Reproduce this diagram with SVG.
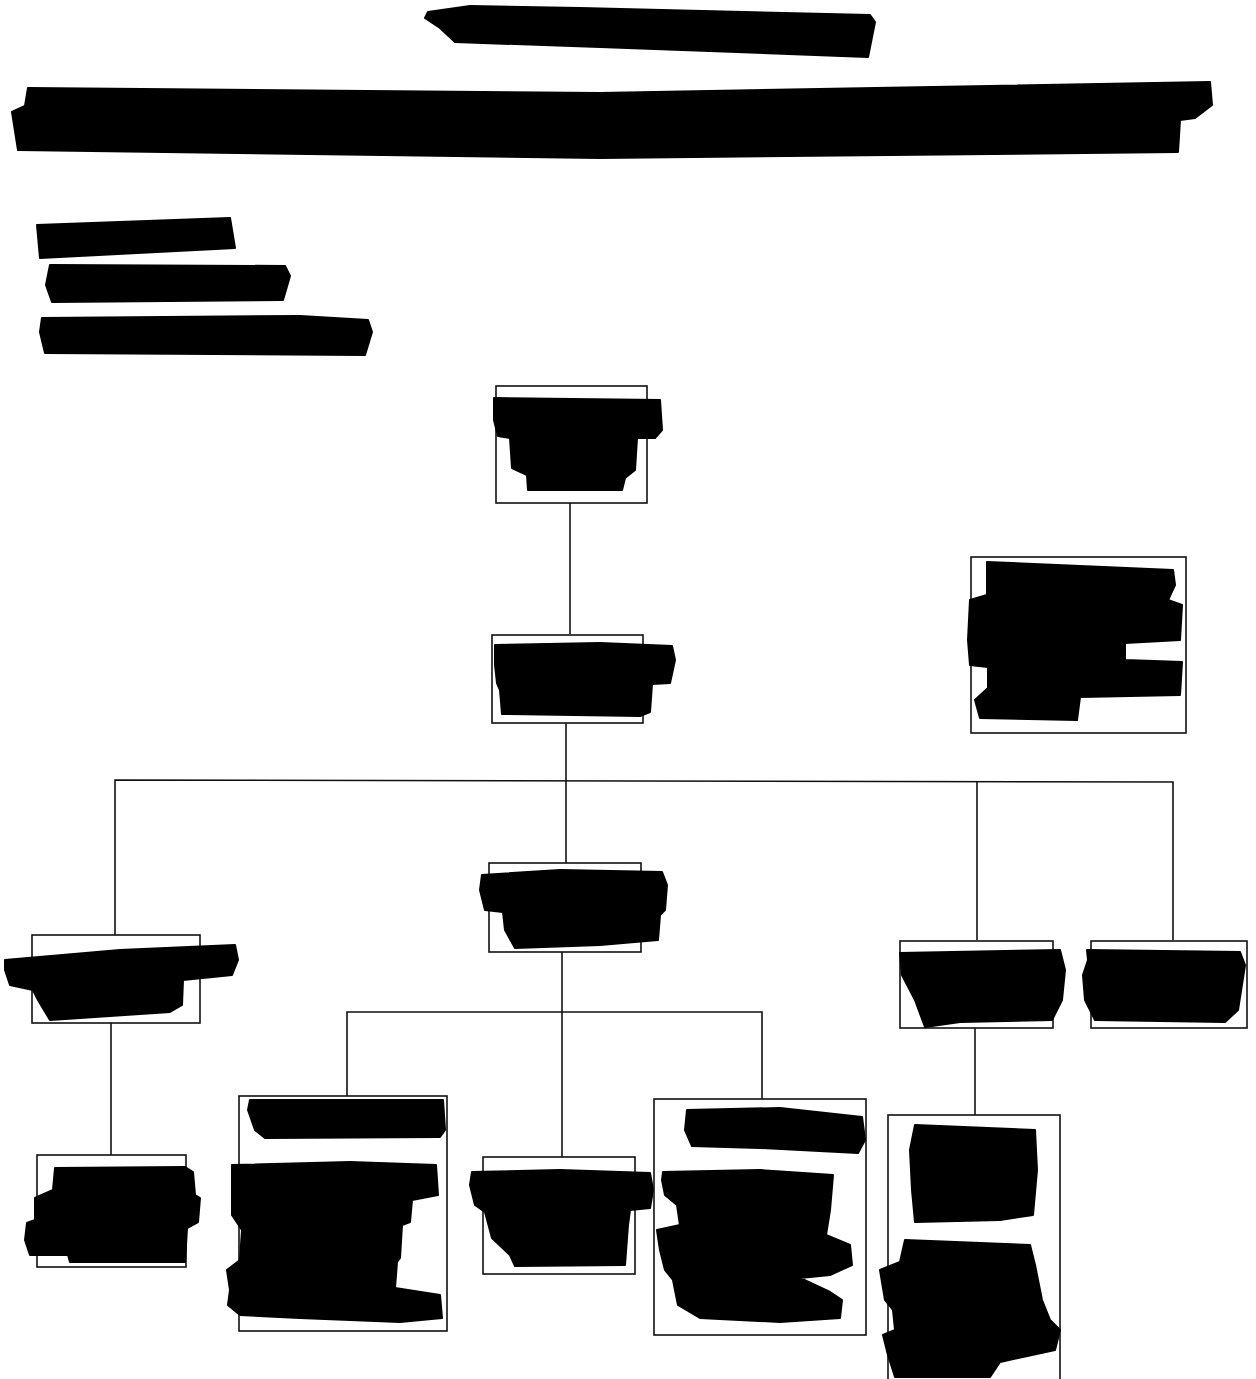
<svg xmlns="http://www.w3.org/2000/svg" width="1256" height="1379" viewBox="0 0 1256 1379">
<style>
.box{fill:#fff;stroke:#111;stroke-width:1.6}
.red{fill:#000;stroke:#000;stroke-width:2;stroke-linejoin:round}
.con{fill:none;stroke:#111;stroke-width:1.6}
</style>
<rect width="1256" height="1379" fill="#fff"/>
<g id="title">
<polygon class="red" points="428,12 470,6 580,8 870,15 875,22 868,57 600,47 455,42 440,28 425,18"/>
<polygon class="red" points="28,88 600,93 1210,82 1212,105 1195,118 1180,120 1178,152 600,158 18,150 12,112 25,106"/>
</g>
<g id="legend">
<polygon class="red" points="37,225 230,218 235,248 40,258"/>
<polygon class="red" points="50,265 285,266 290,276 283,300 52,302 46,285"/>
<polygon class="red" points="42,318 300,316 368,320 372,332 365,355 45,353 40,332"/>
</g>
<g id="connectors">
<line class="con" x1="570" y1="503" x2="570" y2="634"/>
<line class="con" x1="566" y1="723" x2="566" y2="863"/>
<polyline class="con" points="115,935 115,780 1173,782 1173,940"/>
<line class="con" x1="977" y1="781" x2="977" y2="940"/>
<line class="con" x1="562" y1="952" x2="562" y2="1157"/>
<polyline class="con" points="347,1097 347,1012 762,1012 762,1100"/>
<line class="con" x1="111" y1="1023" x2="111" y2="1155"/>
<line class="con" x1="975" y1="1028" x2="975" y2="1115"/>
</g>
<g id="node-top">
<rect class="box" x="496" y="386" width="151" height="117"/>
<polygon class="red" points="494,398 660,400 662,430 655,438 637,438 635,470 625,478 622,490 528,490 527,475 512,468 510,438 498,436 494,420"/>
</g>
<g id="node-2">
<rect class="box" x="492" y="635" width="151" height="88"/>
<polygon class="red" points="495,645 600,643 672,646 675,660 670,683 652,684 650,712 640,716 502,714 500,690 497,683 495,665"/>
</g>
<g id="note">
<rect class="box" x="971" y="557" width="215" height="176"/>
<polygon class="red" points="987,562 1173,570 1175,585 1168,600 1182,605 1180,640 1125,643 1125,660 1182,662 1180,695 1080,697 1077,720 980,718 975,700 988,688 988,667 970,665 968,640 970,600 987,595"/>
</g>
<g id="node-mid">
<rect class="box" x="489" y="863" width="152" height="89"/>
<polygon class="red" points="482,875 560,870 662,872 667,885 665,910 660,915 658,940 600,945 515,948 505,930 503,912 485,910 480,890"/>
</g>
<g id="node-left">
<rect class="box" x="32" y="935" width="168" height="88"/>
<polygon class="red" points="5,960 120,950 235,945 238,960 232,975 183,980 182,1005 170,1012 50,1020 38,1000 33,990 10,985 5,970"/>
</g>
<g id="node-right-a">
<rect class="box" x="900" y="941" width="153" height="87"/>
<polygon class="red" points="900,953 1060,950 1065,970 1062,1000 1052,1020 960,1022 925,1027 915,1000 902,975"/>
</g>
<g id="node-right-b">
<rect class="box" x="1091" y="941" width="156" height="87"/>
<polygon class="red" points="1087,950 1240,952 1245,965 1238,1010 1225,1022 1095,1020 1085,1000 1083,975 1088,960"/>
</g>
<g id="node-left-child">
<rect class="box" x="37" y="1155" width="149" height="112"/>
<polygon class="red" points="55,1168 185,1167 193,1172 195,1195 200,1198 198,1222 187,1228 185,1262 70,1262 68,1255 30,1255 25,1240 27,1223 35,1220 35,1198 53,1190"/>
</g>
<g id="node-sub-1">
<rect class="box" x="239" y="1096" width="208" height="235"/>
<polygon class="red" points="250,1100 443,1100 445,1130 440,1137 265,1138 255,1130 248,1110"/>
<polygon class="red" points="232,1165 350,1162 436,1165 438,1195 412,1200 410,1222 402,1225 400,1258 397,1262 395,1288 440,1295 442,1318 400,1322 300,1318 240,1315 228,1305 230,1290 227,1270 240,1260 242,1230 232,1215 232,1195"/>
</g>
<g id="node-sub-2">
<rect class="box" x="483" y="1157" width="152" height="117"/>
<polygon class="red" points="472,1172 560,1170 650,1173 653,1190 650,1208 630,1210 628,1225 625,1265 515,1266 510,1255 492,1238 485,1212 475,1205 470,1185"/>
</g>
<g id="node-sub-3">
<rect class="box" x="654" y="1099" width="212" height="236"/>
<polygon class="red" points="687,1110 780,1108 862,1117 865,1140 858,1153 760,1148 692,1146 685,1130"/>
<polygon class="red" points="663,1172 760,1170 833,1175 830,1210 826,1235 850,1245 852,1265 830,1275 800,1278 830,1292 842,1300 840,1318 780,1322 700,1318 678,1305 673,1280 665,1270 660,1250 657,1230 680,1225 677,1205 665,1195 662,1180"/>
</g>
<g id="node-right-a-child">
<rect class="box" x="888" y="1115" width="172" height="270"/>
<polygon class="red" points="915,1125 1035,1130 1037,1170 1033,1215 1000,1220 915,1222 912,1190 910,1150"/>
<polygon class="red" points="905,1240 1030,1245 1035,1265 1042,1300 1050,1320 1060,1330 1055,1350 1000,1362 990,1377 895,1377 888,1355 883,1335 895,1330 893,1310 885,1300 880,1270 900,1262"/>
</g>
</svg>
